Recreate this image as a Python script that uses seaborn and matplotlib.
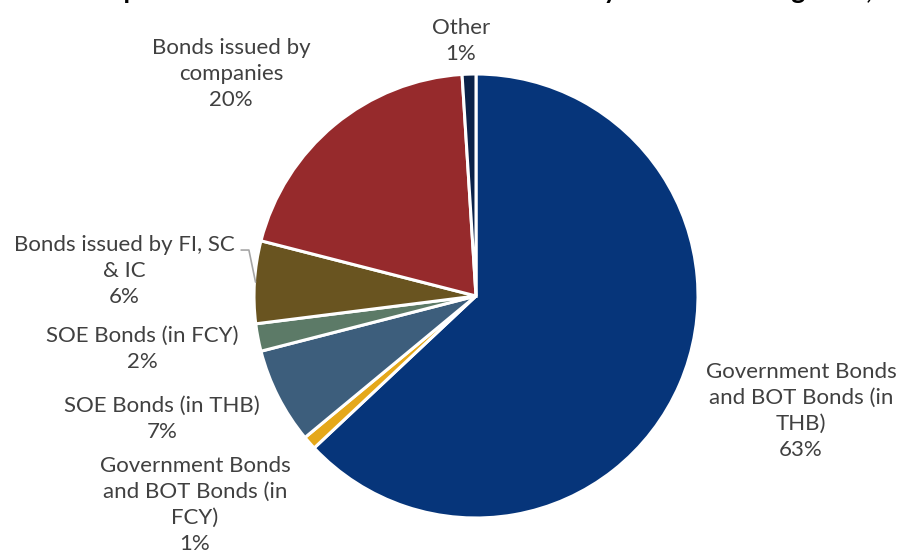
import matplotlib
matplotlib.use("Agg")
import matplotlib.pyplot as plt
import numpy as np
import seaborn as sns

# Bond investment breakdown by segment (% of total)
categories = [
    "Government Bonds\nand BOT Bonds (in\nTHB)",
    "Government Bonds\nand BOT Bonds (in\nFCY)",
    "SOE Bonds (in THB)",
    "SOE Bonds (in FCY)",
    "Bonds issued by FI, SC\n& IC",
    "Bonds issued by\ncompanies",
    "Other",
]
shares = [63, 1, 7, 2, 6, 20, 1]
colors = ["#06357A", "#E5A81A", "#3D5E7C", "#5C7A67", "#695420", "#962A2C", "#0B2249"]

# Label anchor points (data units, pie radius = 1)
label_x = [1.464, -1.266, -1.414, -1.505, -1.585, -1.104, -0.068]
label_y = [-0.518, -0.941, -0.554, -0.239, 0.113, 1.000, 1.149]

sns.set_style("white")
plt.rcParams["font.family"] = ["Lato", "DejaVu Sans"]

W, H = 899, 557
fig = plt.figure(figsize=(W / 100, H / 100), dpi=100)
cx, cy, r = 476, 296, 222
ax = fig.add_axes([(cx - r) / W, (H - cy - r) / H, 2 * r / W, 2 * r / H])

wedges, _ = ax.pie(
    shares,
    colors=colors,
    startangle=90,
    counterclock=False,
    radius=1.0,
    wedgeprops=dict(edgecolor="white", linewidth=2.2),
)
ax.set_xlim(-1, 1)
ax.set_ylim(-1, 1)
ax.set_aspect("equal")
ax.axis("off")

text_color = "#404040"
for name, val, lx, ly in zip(categories, shares, label_x, label_y):
    ax.text(lx, ly, f"{name}\n{val}%", ha="center", va="center",
            fontsize=16, color=text_color, linespacing=1.36, clip_on=False)

# Leader line for the FI / SC / IC slice
fi = wedges[4]
mid = np.deg2rad((fi.theta1 + fi.theta2) / 2)
ex, ey = 0.995 * np.cos(mid), 0.995 * np.sin(mid)
ax.plot([-1.058, -1.023, ex], [0.207, 0.207, ey], color="#A6A6A6",
        linewidth=1.2, clip_on=False)

fig.text(0.5, 1 + 1 / H,
         "Figure 3: Composition of Bond Investments classified by Investment Segment, 2018",
         ha="center", va="baseline", fontsize=19, fontweight="bold", color="black")

fig.savefig("out.png", dpi=100, facecolor="white")
